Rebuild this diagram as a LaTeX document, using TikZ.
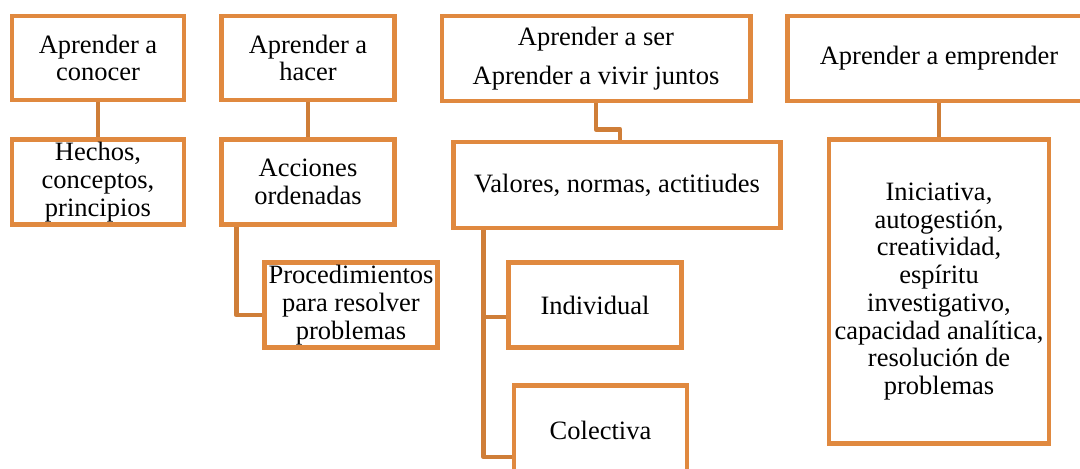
\documentclass[tikz,border=0pt]{standalone}
\usepackage{fontspec}
\setmainfont{Liberation Serif}
\usetikzlibrary{calc}
\definecolor{naranja}{HTML}{E0893F}
\definecolor{naranjaosc}{HTML}{CF7E38}
\tikzset{caja/.style={rectangle,draw=naranja,line width=3.5pt,fill=white,
  inner sep=0pt,align=center,font=\fontsize{18.85}{19.7}\selectfont}}
\tikzset{linea/.style={draw=naranjaosc,line width=3.5pt,line join=round}}

\begin{document}
\begin{tikzpicture}[x=0.025cm,y=-0.025cm]
\useasboundingbox (0,0) rectangle (1080,468);
\clip (0,0) rectangle (1080,468);
% \draw[help lines,step=40] (0,0) grid (1080,468);
\node (k1) [caja,minimum width=4.3cm,minimum height=2.1cm] at (98,58) {Aprender a\\conocer};
\node (h1) [caja,minimum width=4.3cm,minimum height=2.14cm] at (98,182) {Hechos,\\conceptos,\\principios};
\node (k2) [caja,minimum width=4.325cm,minimum height=2.1cm] at (308,58) {Aprender a\\hacer};
\node (a2) [caja,minimum width=4.325cm,minimum height=2.14cm] at (308,182) {Acciones\\ordenadas};
\node (p2) [caja,minimum width=4.31cm,minimum height=2.14cm] at (351,305) {Procedimientos\\para resolver\\problemas};
\node (k3) [caja,minimum width=7.7cm,minimum height=2.125cm] at (596,58.5) {Aprender a ser\\[8pt]Aprender a vivir juntos};
\node (v3) [caja,minimum width=8.19cm,minimum height=2.15cm] at (617,185) {Valores, normas, actitiudes};
\node (i3) [caja,minimum width=4.31cm,minimum height=2.14cm] at (595,305) {Individual};
\node (c3) [caja,minimum width=4.325cm,minimum height=2.22cm] at (600.5,430) {Colectiva};
\node (k4) [caja,minimum width=7.575cm,minimum height=2.125cm] at (939,58.5) {Aprender a emprender};
\node (e4) [caja,minimum width=5.5cm,minimum height=7.6cm] at (939,291.5) {Iniciativa,\\autogesti\'on,\\creatividad,\\esp\'iritu\\investigativo,\\capacidad anal\'itica,\\resoluci\'on de\\problemas};
%
\draw[linea] (k1) -- (h1);
\draw[linea] (k2) -- (a2);
\draw[linea] ($(a2.south west)+(17.5,0)$) |- ($(p2.west)+(0,10)$);
\draw[linea] (k3.south) -- ++(0,26) -| ($(v3.north)+(3,0)$);
\draw[linea] ($(v3.south west)+(33,0)$) |- ($(i3.west)+(0,12)$);
\draw[linea] ($(v3.south west)+(33,0)$) |- ($(c3.west)+(0,27)$);
\draw[linea] (k4) -- (e4);
\end{tikzpicture}
\end{document}
